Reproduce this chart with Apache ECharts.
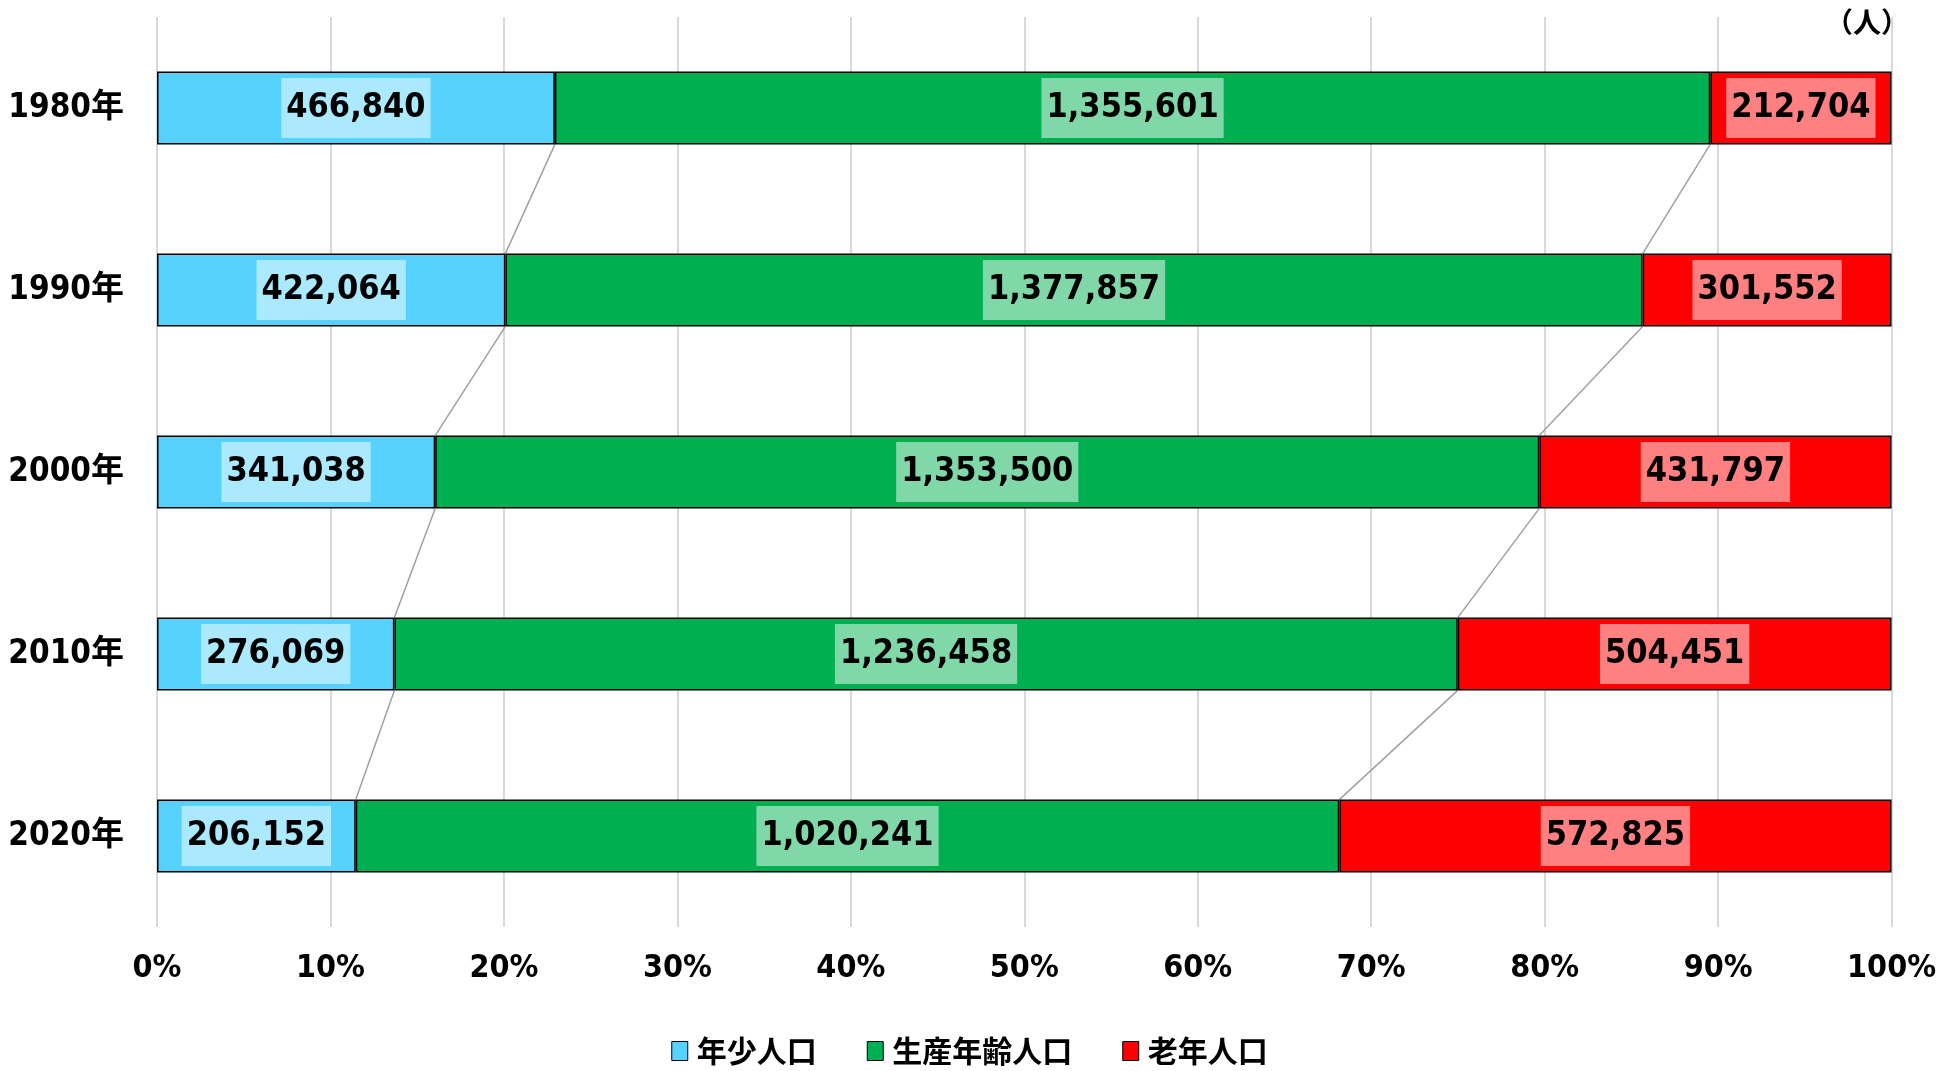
<!DOCTYPE html>
<html>
<head>
<meta charset="utf-8">
<script src="https://cdn.jsdelivr.net/npm/echarts@6/dist/echarts.min.js"></script>
<style>
  html, body { margin: 0; padding: 0; background: #fff; }
  #chart { width: 1939px; height: 1071px; }
</style>
</head>
<body>
<div id="chart"></div>
<script>
// 年次
const years = ["1980年", "1990年", "2000年", "2010年", "2020年"];
// 人口（人）
const young = [466840, 422064, 341038, 276069, 206152];
const working = [1355601, 1377857, 1353500, 1236458, 1020241];
const elderly = [212704, 301552, 431797, 504451, 572825];
const seriesNames = ["年少人口", "生産年齢人口", "老年人口"];
const xTicks = [0, 10, 20, 30, 40, 50, 60, 70, 80, 90, 100];

const narrowFont = "'Liberation Sans Narrow', 'DejaVu Sans Condensed', 'Noto Sans CJK JP', sans-serif";
const jpFont = "'Noto Sans CJK JP', sans-serif";

// 構成比（%）
const totals = years.map((_, i) => young[i] + working[i] + elderly[i]);
const pct = (arr) => arr.map((v, i) => v / totals[i] * 100);
const youngPct = pct(young);
const workingPct = pct(working);
const elderlyPct = pct(elderly);

const raw = [young, working, elderly];
const colors = ["#57D2FF", "#00B050", "#FF0000"];
const BAR_RATIO = 0.4;

const fmt = (v) => echarts.format.addCommas(v);

function makeBar(idx, data) {
  return {
    name: seriesNames[idx],
    type: "bar",
    stack: "total",
    barWidth: BAR_RATIO * 100 + "%",
    data: data,
    itemStyle: { color: colors[idx], borderColor: "#000", borderWidth: 1.5 },
    label: {
      show: true,
      position: "inside",
      formatter: (p) => fmt(raw[idx][p.dataIndex]),
      fontFamily: narrowFont,
      fontWeight: "bold",
      fontSize: 34,
      color: "#000",
      backgroundColor: "rgba(255,255,255,0.5)",
      padding: [14, 5, 12, 5]
    }
  };
}

// 区分線（系列線）のデータ
const connectorData = years.slice(1).map((_, k) => {
  const i = k + 1;
  return [i, youngPct[i - 1], youngPct[i],
    youngPct[i - 1] + workingPct[i - 1], youngPct[i] + workingPct[i]];
});

const chart = echarts.init(document.getElementById("chart"));
chart.setOption({
  animation: false,
  grid: { left: 157, right: 46, top: 17, height: 910 },
  xAxis: {
    type: "value",
    min: 0,
    max: 100,
    interval: 10,
    axisLine: { show: false },
    axisTick: { show: false },
    splitLine: { show: true, lineStyle: { color: "#d9d9d9", width: 2 } },
    axisLabel: {
      formatter: "{value}%",
      fontFamily: narrowFont,
      fontWeight: "bold",
      fontSize: 32,
      color: "#000",
      margin: 26
    }
  },
  yAxis: {
    type: "category",
    data: years,
    inverse: true,
    axisLine: { show: false },
    axisTick: { show: false },
    axisLabel: {
      fontFamily: narrowFont,
      fontWeight: "bold",
      fontSize: 33,
      color: "#000",
      margin: 33
    }
  },
  legend: {
    bottom: 0,
    left: "center",
    icon: "rect",
    itemWidth: 16,
    itemHeight: 19,
    itemGap: 50,
    itemStyle: { borderColor: "#000", borderWidth: 1 },
    textStyle: { fontFamily: jpFont, fontWeight: "bold", fontSize: 30, color: "#000", padding: [0, 0, 0, 4] },
    data: seriesNames
  },
  graphic: [{
    type: "text",
    right: 30,
    top: 8,
    style: { text: "（人）", font: "bold 28px " + jpFont, fill: "#000" }
  }],
  series: [
    makeBar(0, youngPct),
    makeBar(1, workingPct),
    makeBar(2, elderlyPct),
    {
      type: "custom",
      data: connectorData,
      encode: { x: [1, 2, 3, 4], y: 0 },
      silent: true,
      renderItem: (params, api) => {
        const i = api.value(0);
        const half = api.size([0, 1])[1] * BAR_RATIO / 2;
        const lines = [];
        [[1, 2], [3, 4]].forEach(([a, b]) => {
          const p1 = api.coord([api.value(a), i - 1]);
          const p2 = api.coord([api.value(b), i]);
          lines.push({
            type: "line",
            shape: { x1: p1[0], y1: p1[1] + half, x2: p2[0], y2: p2[1] - half },
            style: { stroke: "#a0a0a0", lineWidth: 1.5 }
          });
        });
        return { type: "group", children: lines };
      }
    }
  ]
});
</script>
</body>
</html>
